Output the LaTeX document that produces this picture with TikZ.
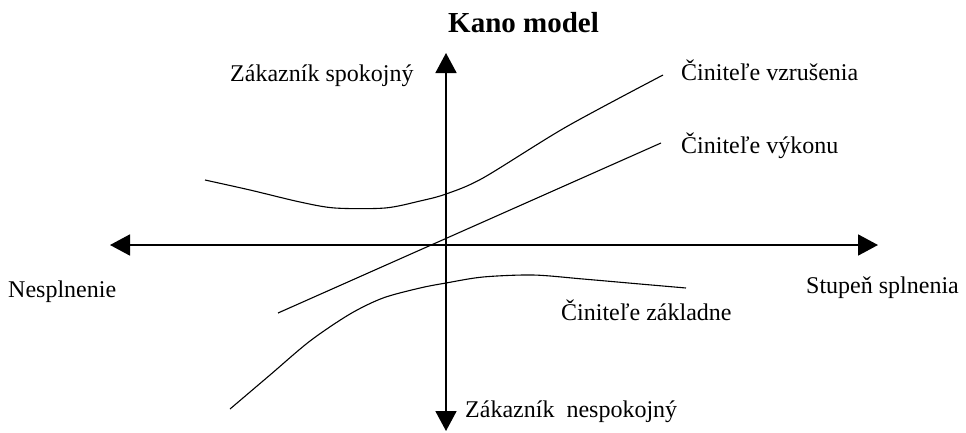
\documentclass[tikz,border=0pt]{standalone}
\usepackage{fontspec}
\setmainfont{Liberation Serif}
\usetikzlibrary{arrows.meta,positioning}

\begin{document}
\begin{tikzpicture}[
  x=1pt,y=-1pt,
  every node/.style={inner sep=0pt,anchor=base west,font=\fontsize{24}{28}\selectfont},
  title/.style={font=\fontsize{29}{34}\selectfont\bfseries},
  axis/.style={{Triangle[length=20pt,width=21pt]}-{Triangle[length=20pt,width=21pt]},line width=1.8pt},
  curve/.style={line width=1.1pt}
]
  \useasboundingbox (0,0) rectangle (966,432);

  % axes
  \coordinate (xl) at (110,245);
  \coordinate (xr) at (878,245);
  \coordinate (yt) at (446,53);
  \coordinate (yb) at (446,431);
  \draw[axis] (xl) -- (xr);
  \draw[axis] (yt) -- (yb);

  % curves
  \coordinate (vzrA) at (205,180);
  \coordinate (vzrB) at (663,75);
  \coordinate (vykA) at (278,313);
  \coordinate (vykB) at (661,143);
  \coordinate (zakA) at (230,409);
  \coordinate (zakB) at (686,288);
  \draw[curve] plot[smooth,tension=0.5] coordinates {(vzrA) (250,190) (300,202) (335,208) (385,208) (420,201) (446,194) (483,178) (566,127) (vzrB)};
  \draw[curve] (vykA) -- (vykB);
  \draw[curve] plot[smooth,tension=0.5] coordinates {(zakA) (270,375) (310,341) (350,314) (383,298) (420,288) (446,283) (483,277) (533,275) (583,279) (640,284) (zakB)};

  % labels
  \node[title] (title) at (448,32) {Kano model};
  \node (spok) at (230,81) {Zákazník spokojný};
  \node (nespok) at (465,417) {Zákazník~ nespokojný};
  \node (nespl) at (8,297) {Nesplnenie};
  \node (stup) at (806,293) {Stupeň splnenia};
  \node (vzr) at (681,80) {Činiteľe vzrušenia};
  \node (vyk) at (681,153) {Činiteľe výkonu};
  \node (zak) at (561,320) {Činiteľe základne};
\end{tikzpicture}
\end{document}
